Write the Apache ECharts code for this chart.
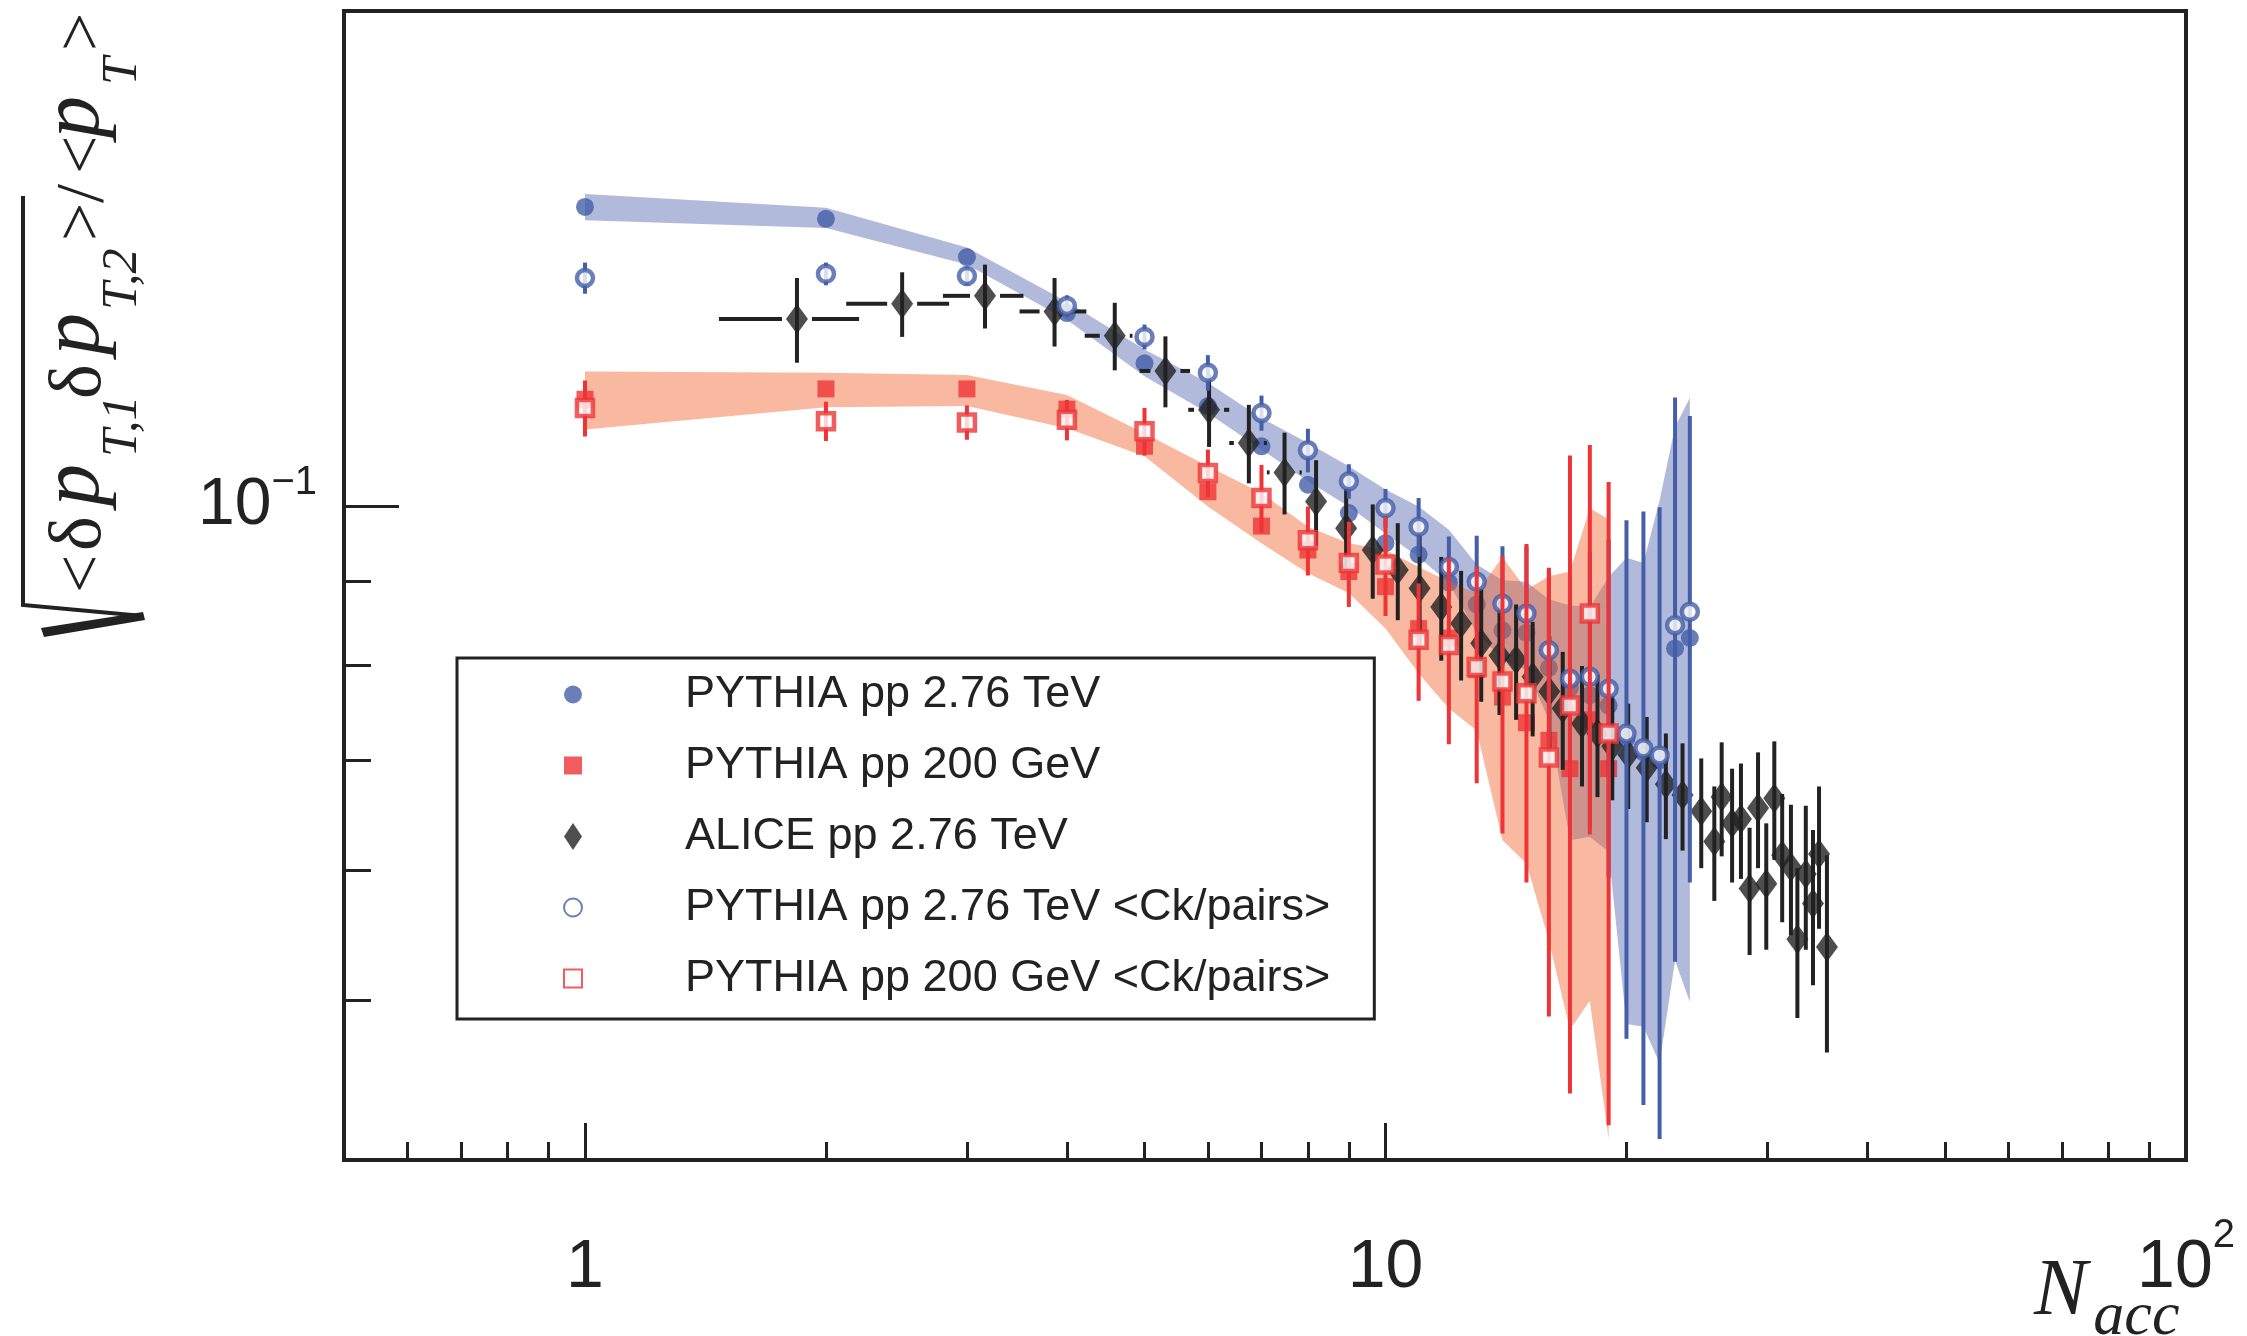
<!DOCTYPE html>
<html>
<head>
<meta charset="utf-8">
<script src="https://cdn.jsdelivr.net/npm/echarts@6/dist/echarts.min.js"></script>
<style>html,body{margin:0;padding:0;background:#fff}#chart{width:2247px;height:1336px}</style>
</head>
<body>
<div id="chart"></div>
<script>
// ---------------- data ----------------
const pythia276N = [1,2,3,4,5,6,7,8,9,10,11,12,13,14,15,16,17,18,19,20,21,22,23,24];
const pythia276 = [0.1520,0.1495,0.1417,0.1310,0.1221,0.1150,0.1087,0.1030,0.0990,0.0949,0.0934,0.0898,0.0871,0.0840,0.0837,0.0797,0.0775,0.0767,0.0756,0.0722,0.0708,0.0700,0.0819,0.0831];
const band276Hi = [0.1548,0.1518,0.1436,0.1331,0.1245,0.1188,0.1131,0.1092,0.1057,0.1023,0.0999,0.0967,0.0921,0.0901,0.0899,0.0877,0.0870,0.0868,0.0905,0.0930,0.0923,0.1008,0.1117,0.1163];
const band276Lo = [0.1492,0.1476,0.1402,0.1298,0.1199,0.1139,0.1082,0.1035,0.0999,0.0962,0.0931,0.0898,0.0837,0.0806,0.0795,0.0741,0.0626,0.0629,0.0616,0.0484,0.0482,0.0458,0.0529,0.0499];
const pythia276Ck = [0.1376,0.1384,0.1380,0.1323,0.1267,0.1205,0.1139,0.1081,0.1035,0.0997,0.0971,0.0918,0.0899,0.0872,0.0860,0.0817,0.0785,0.0787,0.0774,0.0727,0.0712,0.0705,0.0846,0.0862];
const pythia276CkErr = [0.0030,0.0022,0.0018,0.0020,0.0022,0.0030,0.0028,0.0033,0.0025,0.0027,0.0040,0.0040,0.0060,0.0073,0.0085,0.0095,0.0120,0.0150,0.0180,0.0253,0.0280,0.0293,0.0318,0.0272];

const pythia200N = [1,2,3,4,5,6,7,8,9,10,11,12,13,14,15,16,17,18,19];
const pythia200 = [0.1161,0.1178,0.1178,0.1145,0.1087,0.1020,0.0972,0.0940,0.0912,0.0893,0.0842,0.0831,0.0795,0.0765,0.0738,0.0720,0.0692,0.0741,0.0692];
const band200Hi = [0.1207,0.1205,0.1201,0.1168,0.1107,0.1057,0.1018,0.0971,0.0949,0.0940,0.0918,0.0899,0.0885,0.0931,0.0889,0.0906,0.0912,0.0997,0.0981];
const band200Lo = [0.1113,0.1148,0.1150,0.1115,0.1072,0.0999,0.0949,0.0910,0.0885,0.0842,0.0791,0.0753,0.0730,0.0626,0.0606,0.0544,0.0480,0.0500,0.0412];
const pythia200Ck = [0.1147,0.1126,0.1124,0.1128,0.1110,0.1047,0.1011,0.0953,0.0923,0.0921,0.0829,0.0823,0.0798,0.0782,0.0769,0.0703,0.0756,0.0860,0.0727];
const pythia200CkErr = [0.0045,0.0031,0.0027,0.0032,0.0037,0.0035,0.0048,0.0046,0.0055,0.0064,0.0068,0.0107,0.0120,0.0150,0.0179,0.0214,0.0317,0.0229,0.0307];

const aliceN = [1.84,2.49,3.16,3.86,4.59,5.31,6.02,6.75,7.48,8.19,8.93,9.64,10.36,11.03,11.74,12.43,13.17,13.88,14.56,15.27,16.02,16.65,17.6,18.4,19.2,20.1,21.2,22.4,23.5,24.8,25.75,26.3,27.1,27.8,28.5,29.2,29.9,30.6,31.3,32.1,32.7,33.5,34.2,34.8,35.6];
const aliceV = [0.1299,0.1327,0.1342,0.1313,0.1269,0.1208,0.1144,0.1092,0.1048,0.1006,0.0969,0.0940,0.0914,0.0891,0.0868,0.0848,0.0825,0.0811,0.0806,0.0787,0.0771,0.0753,0.0737,0.0727,0.0714,0.0706,0.0693,0.0677,0.0667,0.0652,0.0625,0.0665,0.0641,0.0645,0.0585,0.0655,0.0589,0.0664,0.0613,0.0603,0.0545,0.0597,0.0573,0.0614,0.0539];
const aliceErr = [0.0077,0.0060,0.0060,0.0063,0.0060,0.0060,0.0058,0.0060,0.0060,0.0060,0.0055,0.0062,0.0062,0.0068,0.0063,0.0065,0.0065,0.0065,0.0065,0.0063,0.0062,0.0062,0.0062,0.0062,0.0052,0.0052,0.0051,0.0050,0.0050,0.0050,0.0050,0.0053,0.0051,0.0052,0.0052,0.0053,0.0052,0.0055,0.0055,0.0055,0.0057,0.0060,0.0062,0.0061,0.0074];
const aliceXlo = [1.47,2.12,2.80,3.49,4.21,4.93,5.67,6.38,7.11,7.86];
const aliceXhi = [2.20,2.85,3.53,4.23,4.83,5.70,6.38,7.11,7.86,8.52];

const xMajorTicks = [1,10,100];
const xMinorTicks = [0.6,0.7,0.8,0.9,2,3,4,5,6,7,8,9,20,30,40,50,60,70,80,90];
const yMajorTicks = [0.1];
const yMinorTicks = [0.05,0.06,0.07,0.08,0.09];

const legendNames = ['PYTHIA pp 2.76 TeV','PYTHIA pp 200 GeV','ALICE pp 2.76 TeV','PYTHIA pp 2.76 TeV <Ck/pairs>','PYTHIA pp 200 GeV <Ck/pairs>'];

// ---------------- style ----------------
const FONT = "'Liberation Sans', Arial, sans-serif";
const SERIF = "'Liberation Serif', 'Times New Roman', serif";
const BLUE = '#455ea8', RED = '#ee3437', INK = '#222222';
const SQUARE = 'path://M0,0H10V10H0Z';
const DIAMOND = 'path://M10,0L20,15L10,30L0,15Z';

function bandSeries(id, xs, hi, lo, fill, z) {
  return {
    type: 'custom', id: id, z: z, silent: true, xAxisIndex: 0, yAxisIndex: 0,
    data: xs.map((n, i) => [n, lo[i], hi[i]]),
    encode: { x: 0, y: [1, 2] },
    renderItem: function (params, api) {
      if (params.dataIndex !== 0) return null;
      const pts = [];
      for (let i = 0; i < xs.length; i++) pts.push(api.coord([xs[i], hi[i]]));
      for (let i = xs.length - 1; i >= 0; i--) pts.push(api.coord([xs[i], lo[i]]));
      return { type: 'polygon', shape: { points: pts }, style: { fill: fill, stroke: null } };
    }
  };
}

function errSeries(id, xs, ys, errs, color, width, z, xlo, xhi) {
  return {
    type: 'custom', id: id, z: z, silent: true, xAxisIndex: 0, yAxisIndex: 0,
    data: xs.map((n, i) => [n, ys[i], errs[i], (xlo && xlo[i] != null) ? xlo[i] : n, (xhi && xhi[i] != null) ? xhi[i] : n]),
    encode: { x: 0, y: 1 },
    renderItem: function (params, api) {
      const n = api.value(0), v = api.value(1), e = api.value(2), xl = api.value(3), xh = api.value(4);
      const c = api.coord([n, v]);
      const t = api.coord([n, v + e]);
      const b = api.coord([n, v - e]);
      const st = { stroke: color, lineWidth: width, lineCap: 'butt' };
      const ch = [{ type: 'line', shape: { x1: c[0], y1: t[1], x2: c[0], y2: b[1] }, style: st }];
      const GAP = 15;
      if (xl < n) {
        const l = api.coord([xl, v]);
        if (c[0] - GAP > l[0]) ch.push({ type: 'line', shape: { x1: l[0], y1: c[1], x2: c[0] - GAP, y2: c[1] }, style: st });
      }
      if (xh > n) {
        const r = api.coord([xh, v]);
        if (r[0] > c[0] + GAP) ch.push({ type: 'line', shape: { x1: c[0] + GAP, y1: c[1], x2: r[0], y2: c[1] }, style: st });
      }
      return { type: 'group', children: ch };
    }
  };
}

// y-axis title tokens (rotated text)
const titleTokens = [
  ['<', 'a', 42], ['δ', 'd', 45], ['p', 'p', 49], ['T,1', 'b', 58], ['δ', 'd', 44], ['p', 'p', 45],
  ['T,2', 'b', 69], ['>', 'a', 38], ['/', 'a', 29], ['<', 'a', 36], ['p', 'p', 53], ['T', 'b', 34], ['>', 'a', 38]
];
const baseStyles = {
  a: { fontSize: 68, fontFamily: SERIF, lineHeight: 68, padding: [0, 0, 30, 0] },
  d: { fontSize: 74, fontFamily: SERIF, lineHeight: 74, padding: [0, 0, 30, 0] },
  p: { fontSize: 84, fontFamily: SERIF, fontStyle: 'italic', lineHeight: 84, padding: [0, 0, 30, 0] },
  b: { fontSize: 50, fontFamily: SERIF, fontStyle: 'italic', lineHeight: 50, padding: [0, 0, 0, 0] }
};
const titleRich = {};
let titleText = '';
titleTokens.forEach((tk, i) => {
  const key = 't' + i;
  titleRich[key] = Object.assign({}, baseStyles[tk[1]], { width: tk[2], align: 'left', verticalAlign: 'bottom', fill: INK, color: INK });
  titleText += '{' + key + '|' + tk[0] + '}';
});

const labelRich = {
  n: { fontSize: 68, lineHeight: 68, fontFamily: FONT, color: INK, padding: [18, 0, 0, 0], verticalAlign: 'bottom' },
  s: { fontSize: 40, lineHeight: 40, fontFamily: FONT, color: INK, padding: [0, 0, 46, 0], verticalAlign: 'bottom' }
};
const ylabelRich = {
  n: { fontSize: 66, lineHeight: 66, fontFamily: FONT, color: INK, padding: [10, 0, 0, 0], verticalAlign: 'bottom' },
  s: { fontSize: 40, lineHeight: 40, fontFamily: FONT, color: INK, padding: [0, 0, 36, 0], verticalAlign: 'bottom' }
};

const chart = echarts.init(document.getElementById('chart'), null, { renderer: 'canvas' });
const option = {
  animation: false,
  backgroundColor: '#ffffff',
  textStyle: { fontFamily: FONT, color: INK },
  grid: { left: 344, right: 61, top: 11, bottom: 176, show: true, borderColor: INK, borderWidth: 4, backgroundColor: 'transparent' },
  xAxis: [
    {
      type: 'log', logBase: 10, min: 0.5, max: 100, position: 'bottom',
      axisLine: { show: true, lineStyle: { color: INK, width: 4 } },
      axisTick: { show: true, inside: true, length: 37, customValues: xMajorTicks, lineStyle: { color: INK, width: 3 } },
      axisLabel: {
        show: true, customValues: xMajorTicks, margin: 74, color: INK,
        formatter: function (v) {
          const e = Math.round(Math.log10(v));
          if (e === 0) return '{n|1}';
          if (e === 1) return '{n|10}';
          return '{n|10}{s|' + e + '}';
        },
        rich: labelRich
      },
      splitLine: { show: false }
    },
    {
      type: 'log', logBase: 10, min: 0.5, max: 100, position: 'bottom',
      axisLine: { show: false },
      axisTick: { show: true, inside: true, length: 18, customValues: xMinorTicks, lineStyle: { color: INK, width: 3 } },
      axisLabel: { show: false },
      splitLine: { show: false }
    }
  ],
  yAxis: [
    {
      type: 'log', logBase: 10, min: 0.04, max: 0.2, position: 'left',
      axisLine: { show: true, lineStyle: { color: INK, width: 4 } },
      axisTick: { show: true, inside: true, length: 55, customValues: yMajorTicks, lineStyle: { color: INK, width: 3 } },
      axisLabel: {
        show: true, customValues: yMajorTicks, margin: 27, color: INK,
        formatter: function (v) { return '{n|10}{s|−' + Math.round(-Math.log10(v)) + '}'; },
        rich: ylabelRich
      },
      splitLine: { show: false }
    },
    {
      type: 'log', logBase: 10, min: 0.04, max: 0.2, position: 'left',
      axisLine: { show: false },
      axisTick: { show: true, inside: true, length: 27, customValues: yMinorTicks, lineStyle: { color: INK, width: 3 } },
      axisLabel: { show: false },
      splitLine: { show: false }
    }
  ],
  legend: {
    show: true, orient: 'vertical', left: 457, top: 658,
    padding: [14, 44, 18, 106], itemGap: 26, itemWidth: 18, itemHeight: 28,
    borderColor: INK, borderWidth: 3, backgroundColor: '#ffffff',
    selectedMode: false,
    textStyle: { fontFamily: FONT, fontSize: 45, color: INK, padding: [0, 0, 0, 98] },
    data: legendNames
  },
  graphic: [
    { type: 'polyline', silent: true, shape: { points: [[143, 616], [23, 605], [23, 196]] }, style: { stroke: INK, lineWidth: 4, fill: null } },
    { type: 'polygon', silent: true, shape: { points: [[41, 628], [143, 612], [145, 620], [44, 637]] }, style: { fill: INK } },
    { type: 'text', silent: true, x: 148, y: 593, rotation: Math.PI / 2,
      style: { text: titleText, rich: titleRich, align: 'left', verticalAlign: 'bottom', fill: INK } },
    { type: 'text', silent: true, x: 2034, y: 1349,
      style: { text: '{N|N}{a|acc}', align: 'left', verticalAlign: 'bottom', fill: INK,
        rich: {
          N: { fontSize: 80, lineHeight: 80, fontFamily: SERIF, fontStyle: 'italic', padding: [0, 6, 16, 0], verticalAlign: 'bottom', fill: INK },
          a: { fontSize: 62, lineHeight: 62, fontFamily: SERIF, fontStyle: 'italic', verticalAlign: 'bottom', fill: INK }
        } } }
  ],
  series: [
    bandSeries('band276', pythia276N, band276Hi, band276Lo, 'rgba(69,90,170,0.42)', 1),
    {
      type: 'scatter', name: legendNames[0], z: 2, xAxisIndex: 0, yAxisIndex: 0,
      data: pythia276N.map((n, i) => [n, pythia276[i]]),
      symbol: 'circle', symbolSize: 18, itemStyle: { color: BLUE }
    },
    bandSeries('band200', pythia200N, band200Hi, band200Lo, 'rgba(240,100,45,0.45)', 3),
    {
      type: 'scatter', name: legendNames[1], z: 4, xAxisIndex: 0, yAxisIndex: 0,
      data: pythia200N.map((n, i) => [n, pythia200[i]]),
      symbol: SQUARE, symbolSize: 17, itemStyle: { color: RED }
    },
    errSeries('aliceErr', aliceN, aliceV, aliceErr, INK, 4, 5, aliceXlo, aliceXhi),
    {
      type: 'scatter', name: legendNames[2], z: 6, xAxisIndex: 0, yAxisIndex: 0,
      data: aliceN.map((n, i) => [n, aliceV[i]]),
      symbol: DIAMOND, symbolSize: [22, 30], itemStyle: { color: INK }
    },
    errSeries('ck276Err', pythia276N, pythia276Ck, pythia276CkErr, BLUE, 4, 7),
    {
      type: 'scatter', name: legendNames[3], z: 8, xAxisIndex: 0, yAxisIndex: 0,
      data: pythia276N.map((n, i) => [n, pythia276Ck[i]]),
      symbol: 'circle', symbolSize: 16, itemStyle: { color: '#ffffff', borderColor: BLUE, borderWidth: 4.5 }
    },
    errSeries('ck200Err', pythia200N, pythia200Ck, pythia200CkErr, RED, 4, 9),
    {
      type: 'scatter', name: legendNames[4], z: 10, xAxisIndex: 0, yAxisIndex: 0,
      data: pythia200N.map((n, i) => [n, pythia200Ck[i]]),
      symbol: SQUARE, symbolSize: 16, itemStyle: { color: '#ffffff', borderColor: RED, borderWidth: 4.5 }
    }
  ]
};
chart.setOption(option);
</script>
</body>
</html>
